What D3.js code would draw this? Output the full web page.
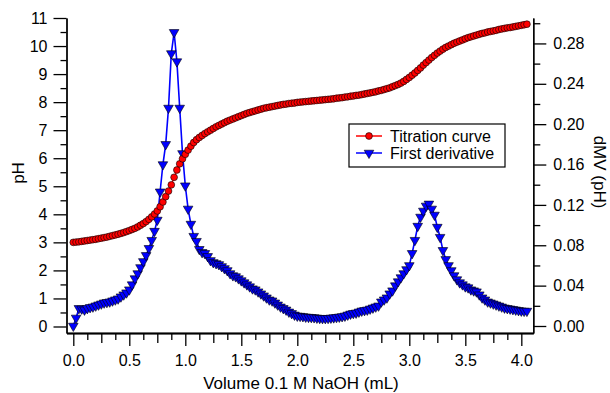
<!DOCTYPE html>
<html>
<head>
<meta charset="utf-8">
<script src="https://cdn.jsdelivr.net/npm/d3@7"></script>
<style>
  html, body { margin: 0; padding: 0; background: #fff; }
  svg { display: block; font-family: "Liberation Sans", Arial, Helvetica, sans-serif; }
</style>
</head>
<body>
<div id="chart"></div>
<script>
// burette volume (mL)
const volume = [
  0, 0.025, 0.05, 0.075, 0.1, 0.125, 0.15, 0.175, 0.2, 0.225,
  0.25, 0.275, 0.3, 0.325, 0.35, 0.375, 0.4, 0.425, 0.45, 0.475,
  0.5, 0.525, 0.55, 0.575, 0.6, 0.625, 0.65, 0.675, 0.7, 0.725,
  0.75, 0.775, 0.8, 0.825, 0.85, 0.875, 0.9, 0.925, 0.95, 0.975,
  1.0, 1.025, 1.05, 1.075, 1.1, 1.125, 1.15, 1.175, 1.2, 1.225,
  1.25, 1.275, 1.3, 1.325, 1.35, 1.375, 1.4, 1.425, 1.45, 1.475,
  1.5, 1.525, 1.55, 1.575, 1.6, 1.625, 1.65, 1.675, 1.7, 1.725,
  1.75, 1.775, 1.8, 1.825, 1.85, 1.875, 1.9, 1.925, 1.95, 1.975,
  2.0, 2.025, 2.05, 2.075, 2.1, 2.125, 2.15, 2.175, 2.2, 2.225,
  2.25, 2.275, 2.3, 2.325, 2.35, 2.375, 2.4, 2.425, 2.45, 2.475,
  2.5, 2.525, 2.55, 2.575, 2.6, 2.625, 2.65, 2.675, 2.7, 2.725,
  2.75, 2.775, 2.8, 2.825, 2.85, 2.875, 2.9, 2.925, 2.95, 2.975,
  3.0, 3.025, 3.05, 3.075, 3.1, 3.125, 3.15, 3.175, 3.2, 3.225,
  3.25, 3.275, 3.3, 3.325, 3.35, 3.375, 3.4, 3.425, 3.45, 3.475,
  3.5, 3.525, 3.55, 3.575, 3.6, 3.625, 3.65, 3.675, 3.7, 3.725,
  3.75, 3.775, 3.8, 3.825, 3.85, 3.875, 3.9, 3.925, 3.95, 3.975,
  4.0, 4.025, 4.05
];

// titration curve (pH, left axis)
const pH = [
  3.00, 3.01, 3.02, 3.035, 3.05, 3.065, 3.08, 3.095, 3.11, 3.13,
  3.15, 3.17, 3.19, 3.215, 3.24, 3.265, 3.29, 3.32, 3.35, 3.385,
  3.42, 3.46, 3.50, 3.55, 3.61, 3.67, 3.74, 3.82, 3.91, 4.01,
  4.12, 4.27, 4.44, 4.63, 4.83, 5.05, 5.32, 5.58, 5.80, 5.98,
  6.14, 6.29, 6.43, 6.56, 6.66, 6.74, 6.81, 6.88, 6.94, 7.00,
  7.06, 7.12, 7.17, 7.22, 7.27, 7.32, 7.36, 7.40, 7.44, 7.48,
  7.52, 7.56, 7.60, 7.63, 7.66, 7.69, 7.72, 7.75, 7.78, 7.80,
  7.82, 7.84, 7.86, 7.88, 7.90, 7.92, 7.93, 7.95, 7.96, 7.97,
  7.99, 8.00, 8.01, 8.02, 8.03, 8.04, 8.05, 8.06, 8.07, 8.08,
  8.09, 8.10, 8.11, 8.12, 8.14, 8.15, 8.16, 8.18, 8.19, 8.21,
  8.22, 8.24, 8.25, 8.27, 8.29, 8.31, 8.33, 8.35, 8.37, 8.40,
  8.42, 8.45, 8.48, 8.51, 8.55, 8.59, 8.63, 8.68, 8.74, 8.81,
  8.88, 8.96, 9.04, 9.13, 9.22, 9.32, 9.41, 9.50, 9.59, 9.67,
  9.75, 9.82, 9.89, 9.95, 10.00, 10.05, 10.10, 10.14, 10.18, 10.22,
  10.26, 10.30, 10.33, 10.36, 10.39, 10.42, 10.45, 10.47, 10.50, 10.52,
  10.54, 10.56, 10.59, 10.61, 10.63, 10.65, 10.66, 10.68, 10.70, 10.72,
  10.74, 10.76, 10.78
];

// first derivative (right axis)
const deriv = [
  0.000, 0.008, 0.0175, 0.017, 0.016, 0.0175, 0.0185, 0.019, 0.020, 0.021,
  0.022, 0.023, 0.0235, 0.024, 0.025, 0.026, 0.027, 0.029, 0.031, 0.033,
  0.036, 0.041, 0.047, 0.052, 0.058, 0.064, 0.070, 0.077, 0.085, 0.094,
  0.105, 0.133, 0.160, 0.180, 0.216, 0.270, 0.291, 0.262, 0.216, 0.171,
  0.139, 0.116, 0.101, 0.089, 0.084, 0.076, 0.073, 0.072, 0.069, 0.065,
  0.063, 0.062, 0.061, 0.059, 0.057, 0.055, 0.052, 0.050, 0.049, 0.047,
  0.045, 0.043, 0.041, 0.039, 0.037, 0.036, 0.034, 0.032, 0.030, 0.028,
  0.026, 0.025, 0.023, 0.021, 0.019, 0.0175, 0.016, 0.014, 0.0125, 0.011,
  0.010, 0.0098, 0.0095, 0.009, 0.0088, 0.0086, 0.0084, 0.008, 0.0077, 0.0076,
  0.0076, 0.0077, 0.008, 0.0083, 0.0086, 0.009, 0.0095, 0.010, 0.011, 0.012,
  0.0126, 0.013, 0.014, 0.015, 0.0155, 0.016, 0.017, 0.018, 0.019, 0.020,
  0.024, 0.026, 0.028, 0.032, 0.035, 0.040, 0.044, 0.048, 0.052, 0.056,
  0.060, 0.072, 0.085, 0.099, 0.108, 0.114, 0.119, 0.121, 0.116, 0.110,
  0.098, 0.088, 0.075, 0.066, 0.060, 0.055, 0.050, 0.046, 0.043, 0.041,
  0.039, 0.038, 0.036, 0.035, 0.034, 0.031, 0.028, 0.026, 0.024, 0.023,
  0.022, 0.021, 0.020, 0.019, 0.018, 0.0175, 0.017, 0.0165, 0.016, 0.0155,
  0.015, 0.0148, 0.0148
];

const xMajor = [0, 0.5, 1.0, 1.5, 2.0, 2.5, 3.0, 3.5, 4.0];
const pHTicks = [0, 1, 2, 3, 4, 5, 6, 7, 8, 9, 10, 11];
const derivTicks = [0, 0.04, 0.08, 0.12, 0.16, 0.20, 0.24, 0.28];
const seriesNames = ['Titration curve', 'First derivative'];

const width = 610, height = 393;
const plot = { left: 66.5, right: 533.3, top: 18, bottom: 333 };

const svg = d3.select('#chart').append('svg')
  .attr('width', width)
  .attr('height', height);

const x = d3.scaleLinear().domain([-0.0607, 4.107]).range([plot.left, plot.right]);
const yL = d3.scaleLinear().domain([-0.232, 11.0]).range([plot.bottom, plot.top]);
const yR = d3.scaleLinear().domain([-0.00694, 0.3052]).range([plot.bottom, plot.top]);

function styleAxis(g) {
  g.attr('font-family', null).attr('font-size', 16);
  g.select('.domain').attr('stroke', '#000').attr('stroke-width', 1.3);
  g.selectAll('.tick line').attr('stroke', '#000').attr('stroke-width', 1.3);
  g.selectAll('.tick text').attr('fill', '#000');
}

// minor ticks first, majors on top
const xQuarter = [0.25, 0.75, 1.25, 1.75, 2.25, 2.75, 3.25, 3.75];
const xEighth = d3.range(0.125, 4.01, 0.25);
svg.append('g').attr('transform', `translate(0,${plot.bottom})`)
  .call(d3.axisBottom(x).tickValues(xEighth).tickSize(7).tickSizeOuter(0).tickFormat(''))
  .call(styleAxis);
svg.append('g').attr('transform', `translate(0,${plot.bottom})`)
  .call(d3.axisBottom(x).tickValues(xQuarter).tickSize(10).tickSizeOuter(0).tickFormat(''))
  .call(styleAxis);
svg.append('g').attr('transform', `translate(0,${plot.bottom})`)
  .call(d3.axisBottom(x).tickValues(xMajor).tickSize(13).tickSizeOuter(0)
    .tickPadding(9).tickFormat(d3.format('.1f')))
  .call(styleAxis);

svg.append('g').attr('transform', `translate(${plot.left},0)`)
  .call(d3.axisLeft(yL).tickValues(d3.range(0.5, 11, 1)).tickSize(6).tickSizeOuter(0).tickFormat(''))
  .call(styleAxis);
svg.append('g').attr('transform', `translate(${plot.left},0)`)
  .call(d3.axisLeft(yL).tickValues(pHTicks).tickSize(13).tickSizeOuter(0).tickPadding(6))
  .call(styleAxis);

svg.append('g').attr('transform', `translate(${plot.right},0)`)
  .call(d3.axisRight(yR).tickValues(d3.range(0.02, 0.31, 0.04)).tickSize(7).tickSizeOuter(0).tickFormat(''))
  .call(styleAxis);
svg.append('g').attr('transform', `translate(${plot.right},0)`)
  .call(d3.axisRight(yR).tickValues(derivTicks).tickSize(13).tickSizeOuter(0)
    .tickPadding(7).tickFormat(d3.format('.2f')))
  .call(styleAxis);

// axis titles
svg.append('text')
  .attr('x', 301).attr('y', 389)
  .attr('text-anchor', 'middle')
  .attr('font-size', 17)
  .text('Volume 0.1 M NaOH (mL)');

svg.append('text')
  .attr('transform', 'translate(24,173) rotate(-90)')
  .attr('text-anchor', 'middle')
  .attr('font-size', 17)
  .text('pH');

svg.append('text')
  .attr('transform', 'translate(594,172) rotate(90)')
  .attr('text-anchor', 'middle')
  .attr('font-size', 17)
  .text('dMV (pH)');

const titration = volume.map((v, i) => [v, pH[i]]);
const derivative = volume.map((v, i) => [v, deriv[i]]);

const tri = d3.symbol().type(d3.symbolTriangle).size(40);

// first derivative
svg.append('path')
  .datum(derivative)
  .attr('fill', 'none')
  .attr('stroke', '#0000ff')
  .attr('stroke-width', 1.6)
  .attr('d', d3.line().x(d => x(d[0])).y(d => yR(d[1])));

svg.append('g').selectAll('path')
  .data(derivative)
  .join('path')
  .attr('transform', d => `translate(${x(d[0])},${yR(d[1])}) rotate(180)`)
  .attr('d', tri)
  .attr('fill', '#0000ff')
  .attr('stroke', '#000')
  .attr('stroke-width', 0.6);

// titration curve
svg.append('path')
  .datum(titration)
  .attr('fill', 'none')
  .attr('stroke', '#ff0000')
  .attr('stroke-width', 1.3)
  .attr('d', d3.line().x(d => x(d[0])).y(d => yL(d[1])));

svg.append('g').selectAll('circle')
  .data(titration)
  .join('circle')
  .attr('cx', d => x(d[0]))
  .attr('cy', d => yL(d[1]))
  .attr('r', 3.4)
  .attr('fill', '#ff0000')
  .attr('stroke', '#000')
  .attr('stroke-width', 0.6);

// legend
const lg = svg.append('g').attr('transform', 'translate(349,124)');
lg.append('rect')
  .attr('width', 156).attr('height', 43)
  .attr('fill', '#fff')
  .attr('stroke', '#000')
  .attr('stroke-width', 1.2);

const colors = ['#ff0000', '#0000ff'];
seriesNames.forEach((name, i) => {
  const cy = 12 + i * 17;
  lg.append('line')
    .attr('x1', 7).attr('x2', 33).attr('y1', cy).attr('y2', cy)
    .attr('stroke', colors[i]).attr('stroke-width', 1.5);
  if (i === 0) {
    lg.append('circle').attr('cx', 20).attr('cy', cy).attr('r', 3.4)
      .attr('fill', colors[i]).attr('stroke', '#000').attr('stroke-width', 0.6);
  } else {
    lg.append('path').attr('transform', `translate(20,${cy}) rotate(180)`)
      .attr('d', tri).attr('fill', colors[i]).attr('stroke', '#000').attr('stroke-width', 0.6);
  }
  lg.append('text')
    .attr('x', 41).attr('y', cy)
    .attr('dy', '0.36em')
    .attr('font-size', 16)
    .text(name);
});
</script>
</body>
</html>
